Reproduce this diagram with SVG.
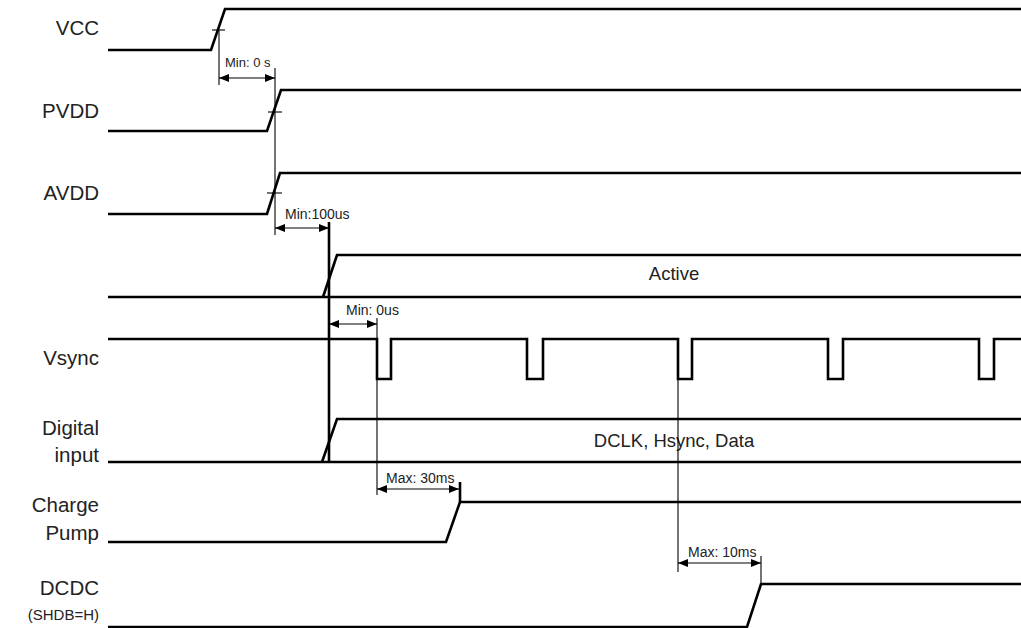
<svg xmlns="http://www.w3.org/2000/svg" width="1021" height="628" viewBox="0 0 1021 628">
<style>
.sig{fill:none;stroke:#000;stroke-width:2.6;stroke-linejoin:miter}
.thin{fill:none;stroke:#000;stroke-width:1.1}
.dim{fill:none;stroke:#000;stroke-width:1.1;marker-start:url(#ar);marker-end:url(#ar)}
.lbl{font-family:"Liberation Sans",Arial,sans-serif;font-size:20.5px;fill:#222;text-anchor:end}
.sm{font-family:"Liberation Sans",Arial,sans-serif;font-size:14px;fill:#222}
.bus{font-family:"Liberation Sans",Arial,sans-serif;font-size:18.5px;fill:#222;text-anchor:middle}
</style>
<defs>
<marker id="ar" viewBox="0 0 10 8" refX="10" refY="4" markerWidth="10" markerHeight="8" markerUnits="userSpaceOnUse" orient="auto-start-reverse">
<path d="M0,0 L10,4 L0,8 z" fill="#000"/>
</marker>
</defs>
<rect width="1021" height="628" fill="#fff"/>

<g id="vcc">
<text class="lbl" x="99" y="35">VCC</text>
<path class="sig" d="M108,50 H211 L225,9 H1021"/>
<line class="thin" x1="212" y1="30" x2="225" y2="30"/>
</g>

<g id="pvdd">
<text class="lbl" x="99" y="118">PVDD</text>
<path class="sig" d="M108,131 H267 L281,90 H1021"/>
<line class="thin" x1="268" y1="112" x2="282" y2="112"/>
</g>

<g id="avdd">
<text class="lbl" x="99" y="200">AVDD</text>
<path class="sig" d="M108,214 H267 L280,173 H1021"/>
<line class="thin" x1="267" y1="193" x2="282" y2="193"/>
</g>

<g id="active">
<path class="sig" d="M108,297 H1021"/>
<path class="sig" d="M323,297 L337,255 H1021"/>
<text class="bus" x="674" y="280">Active</text>
</g>

<g id="vsync">
<text class="lbl" x="99" y="365">Vsync</text>
<path class="sig" d="M108,339 H377 V379 H391 V339 H527 V379 H543 V339 H678 V379 H692 V339 H828 V379 H843 V339 H979 V379 H994 V339 H1021"/>
</g>

<g id="digital-input">
<text class="lbl" x="99" y="435">Digital</text>
<text class="lbl" x="99" y="462">input</text>
<path class="sig" d="M108,462 H1021"/>
<path class="sig" d="M322,462 L337,419 H1021"/>
<text class="bus" x="674" y="447">DCLK, Hsync, Data</text>
</g>

<g id="charge-pump">
<text class="lbl" x="99" y="512">Charge</text>
<text class="lbl" x="99" y="540">Pump</text>
<path class="sig" d="M108,542 H446 L460,502 H1021"/>
<line class="sig" x1="460" y1="482" x2="460" y2="502"/>
</g>

<g id="dcdc">
<text class="lbl" x="99" y="595">DCDC</text>
<text class="lbl" x="99" y="620" style="font-size:15px">(SHDB=H)</text>
<path class="sig" d="M108,627 H747 L761,584 H1021"/>
</g>

<g id="connectors">
<line class="thin" x1="219" y1="30" x2="219" y2="85"/>
<line class="thin" x1="275" y1="68" x2="275" y2="235"/>
<line class="dim" x1="219" y1="78" x2="275" y2="78"/>
<text class="sm" x="225" y="67" style="font-size:13px">Min: 0 s</text>

<line class="sig" x1="329" y1="222" x2="329" y2="463"/>
<line class="dim" x1="275" y1="228" x2="329" y2="228"/>
<text class="sm" x="285" y="219">Min:100us</text>

<line class="thin" x1="377" y1="318" x2="377" y2="495"/>
<line class="dim" x1="329" y1="324" x2="377" y2="324"/>
<text class="sm" x="346" y="315">Min: 0us</text>

<line class="dim" x1="377" y1="489" x2="459" y2="489"/>
<text class="sm" x="386" y="483">Max: 30ms</text>

<line class="thin" x1="678" y1="378" x2="678" y2="572"/>
<line class="thin" x1="761" y1="556" x2="761" y2="584"/>
<line class="dim" x1="678" y1="563" x2="761" y2="563"/>
<text class="sm" x="688" y="557">Max: 10ms</text>
</g>
</svg>
